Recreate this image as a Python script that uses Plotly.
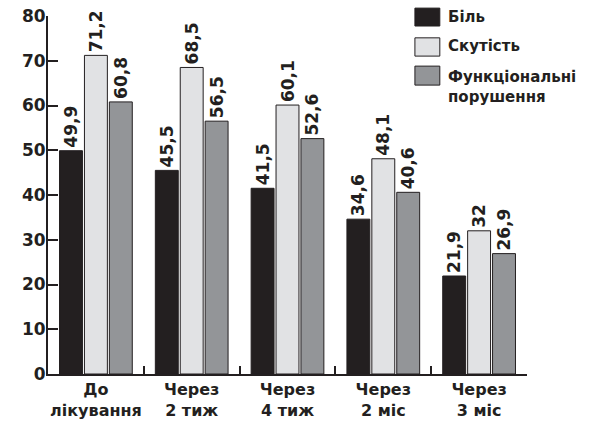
import plotly.graph_objects as go

# Categories (time points) and series values
categories = ["До<br>лікування", "Через<br>2 тиж", "Через<br>4 тиж", "Через<br>2 міс", "Через<br>3 міс"]
pain = [49.9, 45.5, 41.5, 34.6, 21.9]
stiffness = [71.2, 68.5, 60.1, 48.1, 32.0]
dysfunction = [60.8, 56.5, 52.6, 40.6, 26.9]
series_names = ["Біль", "Скутість", "Функціональні<br>порушення"]
series_colors = ["#231f20", "#e1e2e4", "#939598"]
y_ticks = [0, 10, 20, 30, 40, 50, 60, 70, 80]

FONT = "DejaVu Sans, Arial, sans-serif"
INK = "#231f20"


def fmt(v):
    s = f"{v:.1f}".rstrip("0").rstrip(".")
    return s.replace(".", ",")


fig = go.Figure()
for name, vals, col in zip(series_names, [pain, stiffness, dysfunction], series_colors):
    fig.add_trace(go.Bar(
        x=categories, y=vals, name=name,
        marker=dict(color=col, line=dict(color=INK, width=1)),
        text=[f"<b>{fmt(v)}</b>" for v in vals],
        textposition="outside", textangle=-90,
        textfont=dict(family=FONT, size=17, color=INK),
        constraintext="none", cliponaxis=False,
        showlegend=False,
    ))

# Custom legend: swatches (paper coords) with labels to their right
swatch_rows = [(1.022, 0.972), (0.939, 0.888), (0.860, 0.807)]
label_y = [0.997, 0.916, 0.803]
for (y1, y0), col, name, ly in zip(swatch_rows, series_colors, series_names, label_y):
    fig.add_shape(type="rect", xref="paper", yref="paper",
                  x0=0.766, x1=0.818, y0=y0, y1=y1,
                  fillcolor=col, line=dict(color=INK, width=1))
    fig.add_annotation(xref="paper", yref="paper", x=0.831, y=ly,
                       xanchor="left", yanchor="middle",
                       text=f"<b>{name}</b>", showarrow=False, align="left",
                       font=dict(family=FONT, size=15, color=INK))

fig.update_layout(
    width=599, height=424,
    margin=dict(l=48, r=72, t=16, b=50),
    paper_bgcolor="white", plot_bgcolor="white",
    barmode="group", bargap=0.22, bargroupgap=0.08,
    font=dict(family=FONT, color=INK),
)
fig.update_xaxes(
    automargin=False, tickangle=0,
    showline=True, linecolor=INK, linewidth=2,
    ticks="inside", ticklen=8, tickwidth=2, tickcolor=INK,
    tickson="boundaries", showgrid=False,
    tickvals=categories, ticktext=[f"<b>{c}</b>" for c in categories],
    tickfont=dict(family=FONT, size=16, color=INK),
)
fig.update_yaxes(
    automargin=False,
    range=[0, 80], tickvals=y_ticks, ticktext=[f"<b>{v}</b>" for v in y_ticks],
    showline=True, linecolor=INK, linewidth=2,
    ticks="inside", ticklen=10, tickwidth=2, tickcolor=INK,
    ticklabelstandoff=-3,
    showgrid=False, zeroline=False,
    tickfont=dict(family=FONT, size=17, color=INK),
)

fig.write_html("out.html")
